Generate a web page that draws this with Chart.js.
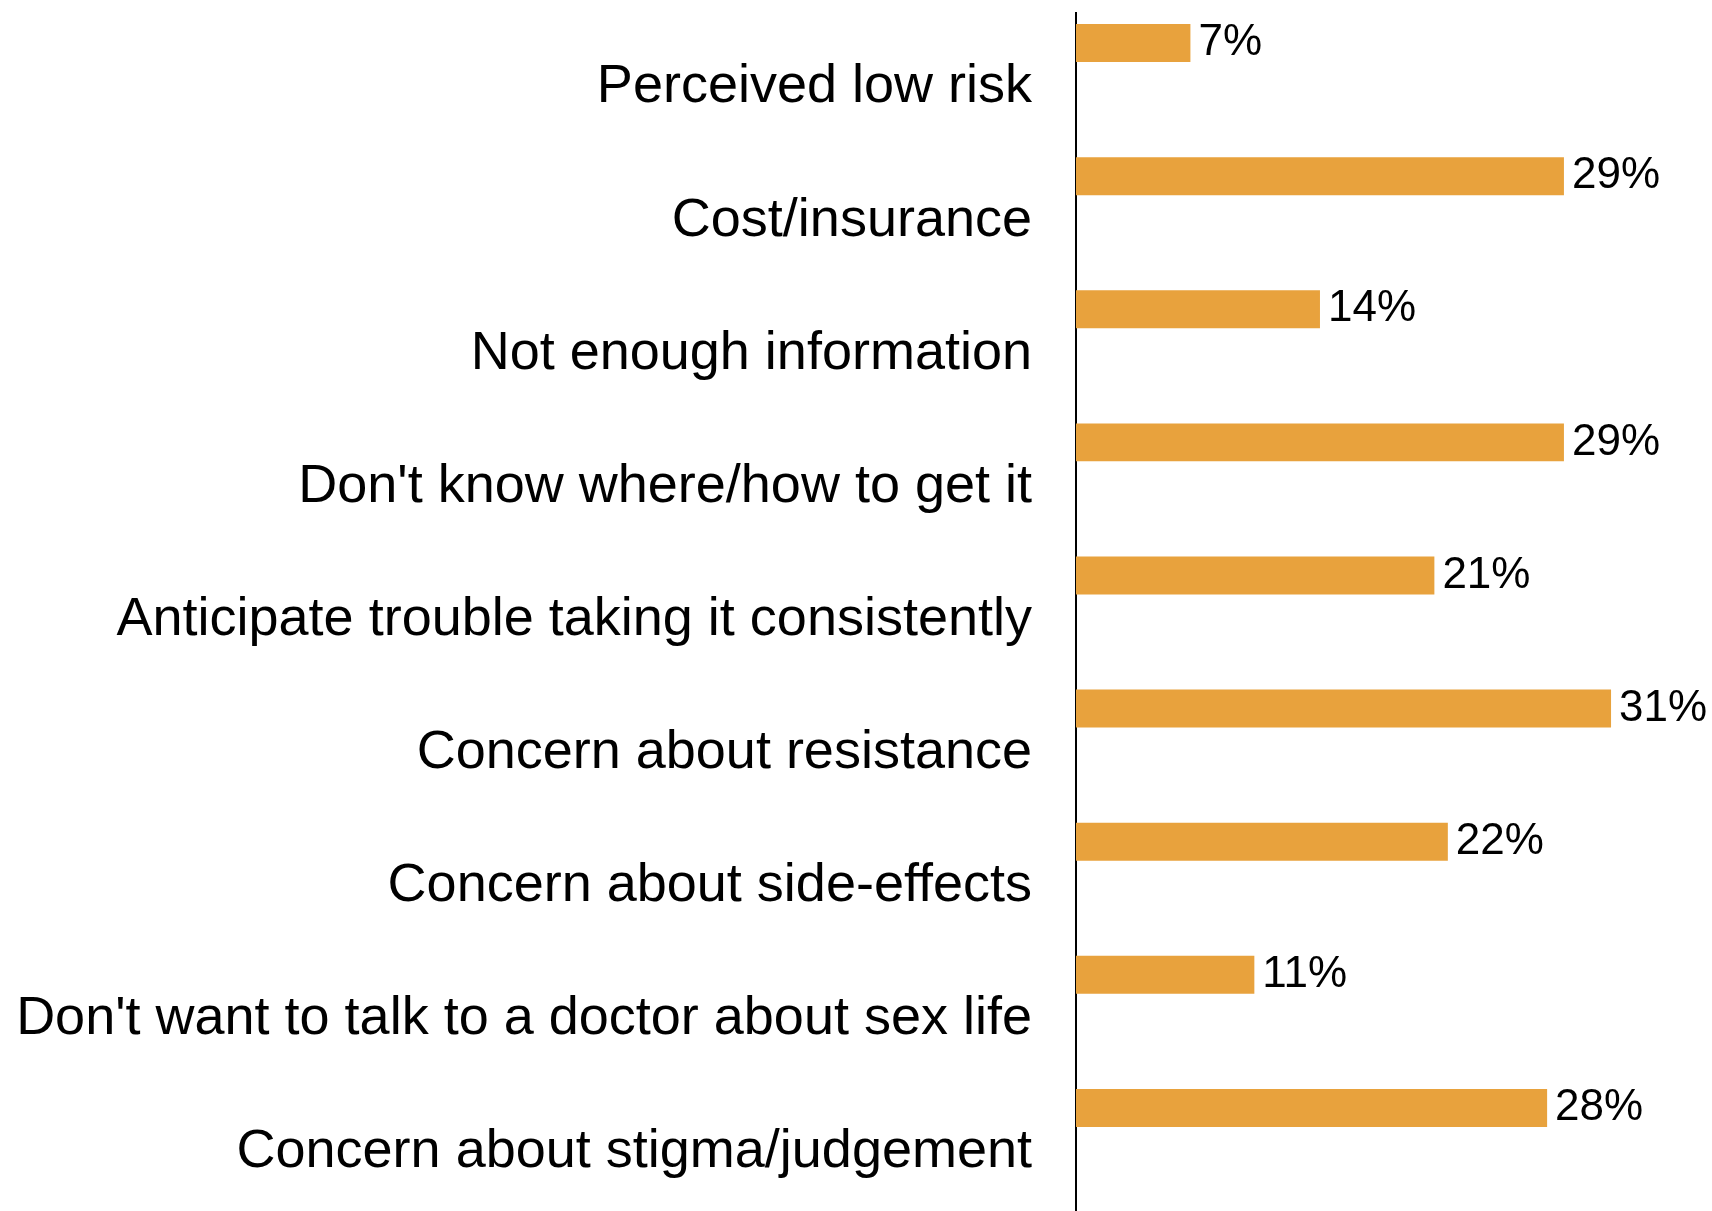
<!DOCTYPE html>
<html>
<head>
<meta charset="utf-8">
<script src="https://cdn.jsdelivr.net/npm/chart.js@4.4.1/dist/chart.umd.min.js"></script>
<style>
  html, body { margin: 0; padding: 0; background: #fff; }
  #wrap { width: 1712px; height: 1211px; position: relative; }
</style>
</head>
<body>
<div id="wrap"><canvas id="barriersChart"></canvas></div>
<script>
var categories = [
  "Perceived low risk",
  "Cost/insurance",
  "Not enough information",
  "Don't know where/how to get it",
  "Anticipate trouble taking it consistently",
  "Concern about resistance",
  "Concern about side-effects",
  "Don't want to talk to a doctor about sex life",
  "Concern about stigma/judgement"
];
// bar lengths (percent)
var values = [6.8, 29.0, 14.5, 29.0, 21.3, 31.8, 22.1, 10.6, 28.0];
// the printed labels next to each bar
var valueLabels = ["7%", "29%", "14%", "29%", "21%", "31%", "22%", "11%", "28%"];

var barColor = "#e8a23d";

// writes the % label just past the end of each bar
var barLabels = {
  id: 'barLabels',
  afterDatasetsDraw: function(chart) {
    var ctx = chart.ctx;
    var meta = chart.getDatasetMeta(0);
    ctx.save();
    ctx.font = "44px 'Liberation Sans', Arial, sans-serif";
    ctx.fillStyle = "#000";
    ctx.textAlign = "left";
    ctx.textBaseline = "middle";
    meta.data.forEach(function(bar, i) {
      ctx.fillText(valueLabels[i], bar.x + 8, bar.y);
    });
    ctx.restore();
  }
};

var ctx = document.getElementById("barriersChart").getContext('2d');
var myChart = new Chart(ctx, {
  type: 'bar',
  data: {
    labels: categories,
    datasets: [{
      data: values,
      backgroundColor: barColor,
      categoryPercentage: 1.097,
      barPercentage: 0.52
    }, {
      // empty slot so the real bar sits in the upper part of each row
      data: categories.map(function() { return null; }),
      backgroundColor: "rgba(0,0,0,0)",
      categoryPercentage: 1.097,
      barPercentage: 0.52
    }]
  },
  options: {
    indexAxis: 'y',
    responsive: true,
    maintainAspectRatio: false,
    animation: false,
    layout: { padding: { top: 13, right: 0, bottom: 0, left: 0 } },
    plugins: {
      legend: { display: false },
      tooltip: { enabled: false }
    },
    scales: {
      x: {
        display: false,
        min: 0,
        max: 37.8
      },
      y: {
        grid: { display: false, drawTicks: false },
        border: { display: true, color: "#000", width: 2 },
        ticks: {
          color: "#000",
          padding: 44,
          labelOffset: 8,
          font: { family: "'Liberation Sans', Arial, sans-serif", size: 54 }
        },
        afterFit: function(scale) {
          scale.width = 1076;
          scale.paddingTop = 0;
          scale.paddingBottom = 0;
        }
      }
    }
  },
  plugins: [barLabels]
});
</script>
</body>
</html>
